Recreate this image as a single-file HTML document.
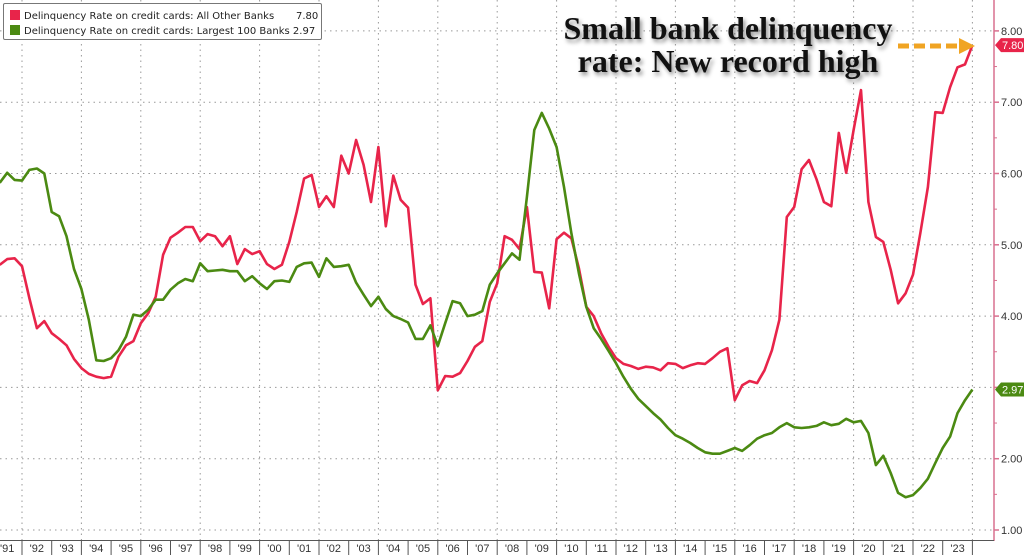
<!DOCTYPE html>
<html><head><meta charset="utf-8">
<style>
body{margin:0;background:#fff;width:1024px;height:555px;overflow:hidden;font-family:"Liberation Sans",sans-serif}
svg{display:block}
</style></head>
<body>
<svg id="chart" width="1024" height="555"></svg>
<script>
const startYear = 1991.25;
const step = 0.25;
const otherBanks = [4.72,4.80,4.81,4.70,4.25,3.83,3.93,3.76,3.68,3.59,
3.40,3.27,3.19,3.15,3.13,3.15,3.43,3.59,3.65,3.90,
4.04,4.27,4.86,5.10,5.17,5.25,5.25,5.05,5.15,5.12,
4.98,5.12,4.73,4.94,4.87,4.91,4.73,4.66,4.72,5.04,
5.46,5.93,5.98,5.53,5.68,5.53,6.25,6.00,6.47,6.12,
5.60,6.37,5.26,5.97,5.63,5.52,4.44,4.17,4.25,2.96,
3.16,3.15,3.20,3.37,3.57,3.65,4.20,4.46,5.12,5.07,
4.94,5.53,4.62,4.61,4.11,5.08,5.17,5.09,4.67,4.13,
4.00,3.76,3.57,3.41,3.33,3.30,3.26,3.29,3.28,3.24,
3.34,3.33,3.27,3.31,3.34,3.33,3.41,3.50,3.55,2.82,
3.03,3.09,3.06,3.24,3.52,3.95,5.39,5.53,6.06,6.19,
5.92,5.60,5.54,6.57,6.01,6.61,7.17,5.60,5.11,5.04,
4.65,4.18,4.32,4.58,5.17,5.81,6.86,6.85,7.21,7.49,
7.53,7.80];
const largestBanks = [5.87,6.01,5.91,5.90,6.05,6.07,6.00,5.46,5.40,5.12,
4.66,4.38,3.95,3.38,3.37,3.41,3.52,3.71,4.02,4.00,
4.09,4.23,4.23,4.37,4.46,4.52,4.49,4.74,4.63,4.64,
4.65,4.63,4.63,4.49,4.56,4.46,4.38,4.49,4.50,4.48,
4.69,4.74,4.75,4.55,4.81,4.69,4.70,4.72,4.47,4.30,
4.14,4.27,4.10,4.00,3.96,3.91,3.68,3.68,3.87,3.58,
3.90,4.21,4.18,4.00,4.02,4.07,4.44,4.60,4.74,4.88,
4.79,5.67,6.61,6.85,6.63,6.37,5.81,5.16,4.60,4.13,
3.83,3.68,3.51,3.34,3.15,2.98,2.84,2.74,2.64,2.55,
2.43,2.33,2.28,2.22,2.15,2.09,2.07,2.07,2.11,2.15,
2.11,2.19,2.28,2.33,2.36,2.44,2.50,2.44,2.43,2.44,
2.46,2.51,2.47,2.49,2.56,2.51,2.53,2.36,1.91,2.04,
1.80,1.52,1.46,1.49,1.59,1.72,1.94,2.15,2.31,2.64,
2.82,2.97];
const yTicks = [1,2,3,4,5,6,7,8];
const yearLabels = ["'91","'92","'93","'94","'95","'96","'97","'98","'99","'00","'01","'02","'03","'04","'05","'06","'07","'08","'09","'10","'11","'12","'13","'14","'15","'16","'17","'18","'19","'20","'21","'22","'23"];
const firstLabelYear = 1991;

const NS="http://www.w3.org/2000/svg";
const svg=document.getElementById('chart');
const X=t=>22+(t-1992)*29.7;
const Y=v=>530-(v-1)*71.3;
function mk(tag,attrs,parent){const e=document.createElementNS(NS,tag);for(const k in attrs)e.setAttribute(k,attrs[k]);(parent||svg).appendChild(e);return e;}

const grid=mk('g',{});


yTicks.forEach(v=>{mk('line',{x1:0,x2:994,y1:Y(v),y2:Y(v),stroke:'#999','stroke-width':1,'stroke-dasharray':'1.5,4'},grid);});
for(let yr=1992;yr<=2024;yr+=2){mk('line',{x1:X(yr),x2:X(yr),y1:0,y2:540,stroke:'#999','stroke-width':1,'stroke-dasharray':'1.5,4'},grid);}

const axes=mk('g',{});


mk('line',{x1:994,x2:994,y1:0,y2:541,stroke:'#d9708f','stroke-width':1.5},axes);
mk('line',{x1:0,x2:994,y1:540.5,y2:540.5,stroke:'#555','stroke-width':1},axes);
yTicks.forEach(v=>{
  mk('line',{x1:994,x2:999,y1:Y(v),y2:Y(v),stroke:'#d9708f','stroke-width':1.5},axes);
  mk('line',{x1:994,x2:997,y1:Y(v+0.5),y2:Y(v+0.5),stroke:'#d9708f','stroke-width':1},axes);
  const t=mk('text',{x:1001,y:Y(v)+4,'font-size':11,fill:'#333'},axes);
  t.textContent=v.toFixed(2);
  
  
});
yearLabels.forEach((lab,i)=>{
  const yr=firstLabelYear+i;
  mk('line',{x1:X(yr+1),x2:X(yr+1),y1:540,y2:555,stroke:'#555','stroke-width':1},axes);
  const t=mk('text',{x:X(yr+0.5),y:552,'font-size':11,fill:'#333','text-anchor':'middle'},axes);
  t.textContent=lab;
  
  
});

function line(vals,color,name){
  const d=vals.map((v,i)=>(i?'L':'M')+X(startYear+i*step).toFixed(1)+','+Y(v).toFixed(1)).join('');
  const p=mk('path',{d:d,fill:'none',stroke:color,'stroke-width':2.6,'stroke-linejoin':'round'});
  
  
}
line(otherBanks,'#e8244a','all-other-banks-line');
line(largestBanks,'#4b8a12','largest-100-banks-line');

function tag(v,color,name){
  const y=Y(v);
  const g=mk('g',{});
  
  
  mk('path',{d:`M995,${y} L1001,${y-7} L1024,${y-7} L1024,${y+7} L1001,${y+7} Z`,fill:color},g);
  const t=mk('text',{x:1002,y:y+4,'font-size':11,fill:'#fff'},g);
  t.textContent=v.toFixed(2);
}
tag(otherBanks[otherBanks.length-1],'#e8244a','last-value-tag-other');
tag(largestBanks[largestBanks.length-1],'#4b8a12','last-value-tag-largest');
</script>
<div style="position:absolute;left:3px;top:3px;width:317px;height:35px;border:1px solid #777;border-radius:2px;background:#fff;font-family:'DejaVu Sans',sans-serif;font-size:10px;color:#222;line-height:14px;">
  <div style="position:absolute;left:6px;top:6px;width:308px;white-space:nowrap"><span style="display:inline-block;width:10px;height:10px;background:#e8244a;margin-right:4px;vertical-align:-1px"></span>Delinquency Rate on credit cards: All Other Banks<span style="position:absolute;left:286px">7.80</span></div>
  <div style="position:absolute;left:6px;top:21px;white-space:nowrap"><span style="display:inline-block;width:10px;height:10px;background:#4b8a12;margin-right:4px;vertical-align:-1px"></span>Delinquency Rate on credit cards: Largest 100 Banks 2.97</div>
</div>
<div style="position:absolute;left:548px;top:12px;width:360px;text-align:center;font-family:'Liberation Serif',serif;font-weight:bold;font-size:32px;line-height:33px;color:#111;text-shadow:2px 3px 4px rgba(0,0,0,0.45)">Small bank delinquency<br>rate: New record high</div>
<svg style="position:absolute;left:895px;top:36px" width="85" height="20"><line x1="3" y1="10" x2="62" y2="10" stroke="#f0a423" stroke-width="5" stroke-dasharray="11,5"/><path d="M64,2 L80,10 L64,18 Z" fill="#f0a423"/></svg>
</body></html>
